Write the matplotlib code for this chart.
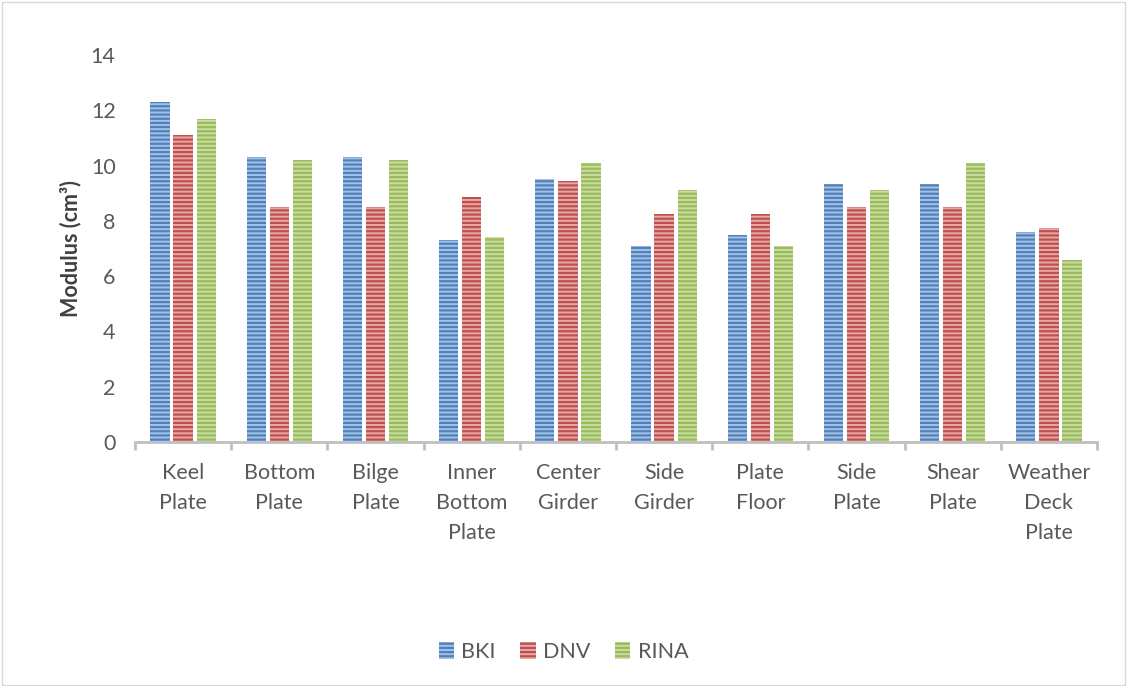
import numpy as np
import matplotlib
matplotlib.use("Agg")
import matplotlib.pyplot as plt
from matplotlib.patches import Rectangle

categories = ["Keel\nPlate", "Bottom\nPlate", "Bilge\nPlate", "Inner\nBottom\nPlate",
              "Center\nGirder", "Side\nGirder", "Plate\nFloor", "Side\nPlate",
              "Shear\nPlate", "Weather\nDeck\nPlate"]
bki = [12.3, 10.3, 10.3, 7.3, 9.5, 7.1, 7.5, 9.35, 9.35, 7.6]
dnv = [11.1, 8.5, 8.5, 8.85, 9.45, 8.25, 8.25, 8.5, 8.5, 7.75]
rina = [11.7, 10.2, 10.2, 7.4, 10.1, 9.1, 7.1, 9.1, 10.1, 6.6]
series_names = ["BKI", "DNV", "RINA"]
yticks = [0, 2, 4, 6, 8, 10, 12, 14]

plt.rcParams["font.family"] = ["Lato", "DejaVu Sans"]
plt.rcParams["hatch.linewidth"] = 1.6

fig = plt.figure(figsize=(11.27, 6.86), dpi=100)
ax = fig.add_axes([0.1198, 0.3557, 0.8536, 0.5641])

light = ["#a7c1e6", "#e6a9a8", "#c9dca4"]
dark = ["#4f81bd", "#c0504d", "#9bbb59"]

x = np.arange(len(categories))
width = 0.2
offsets = [-0.24, 0.0, 0.24]
for vals, name, off, lc, dc in zip([bki, dnv, rina], series_names, offsets, light, dark):
    ax.bar(x + off, vals, width, label=name, facecolor=lc, edgecolor=dc,
           linewidth=0, hatch="----")

ax.set_xlim(-0.5, len(categories) - 0.5)
ax.set_ylim(0, 14)
ax.set_yticks(yticks)
ax.set_xticks(x)
ax.set_xticklabels(categories, fontsize=15.5, color="#595959", linespacing=1.62)
ax.tick_params(axis="x", length=0, pad=15)
ax.tick_params(axis="y", length=0, labelsize=15.5, labelcolor="#595959", pad=14)
ax.set_xticks(np.arange(len(categories) + 1) - 0.5, minor=True)
ax.tick_params(axis="x", which="minor", length=6, width=2, color="#bfbfbf")

for side in ["top", "right", "left"]:
    ax.spines[side].set_visible(False)
ax.spines["bottom"].set_color("#bfbfbf")
ax.spines["bottom"].set_linewidth(2)

ax.set_ylabel("Modulus (cm³)", fontsize=15.5, fontweight="bold", color="#404040", labelpad=7)

leg = fig.legend(loc="center", bbox_to_anchor=(0.5, 0.05), ncol=3, frameon=False,
                 fontsize=15.5, handlelength=0.7, handleheight=0.9, columnspacing=1.15,
                 handletextpad=0.35)
for t in leg.get_texts():
    t.set_color("#595959")

fig.patches.append(Rectangle((0.002, 0.002), 0.996, 0.995, transform=fig.transFigure,
                             fill=False, edgecolor="#d9d9d9", linewidth=1))

fig.savefig("out.png", dpi=100)
